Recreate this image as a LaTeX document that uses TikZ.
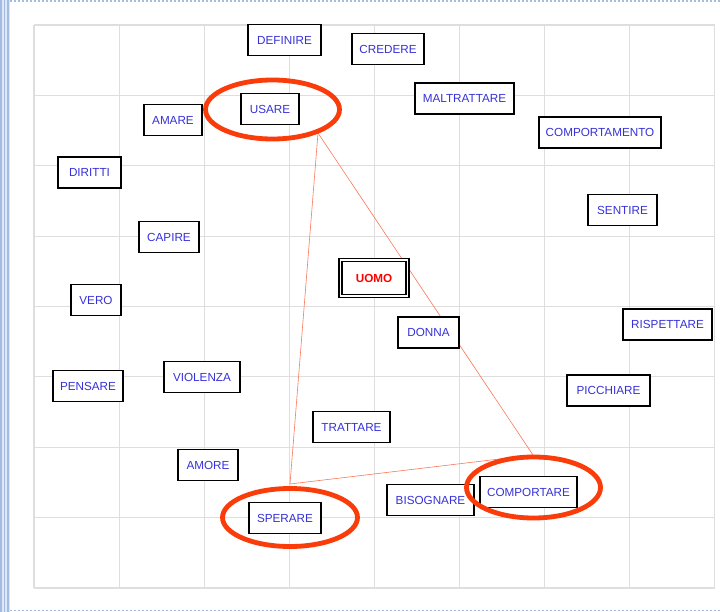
\documentclass[tikz,border=0pt]{standalone}
\usepackage{fontspec}
\setmainfont{Liberation Sans}
\usetikzlibrary{shapes.geometric}
\definecolor{txtblue}{RGB}{55,50,215}
\definecolor{gridgray}{RGB}{222,222,222}
\definecolor{ringred}{RGB}{250,60,10}
\definecolor{linered}{RGB}{250,120,90}
\definecolor{stripe}{RGB}{165,188,226}
\definecolor{stripebg}{RGB}{222,231,245}
\tikzset{
  word/.style={draw=black, line width=1.4pt, fill=white, text=txtblue,
    font=\fontsize{11.7}{13}\selectfont, minimum height=31pt, inner sep=0pt},
  ring/.style={draw=ringred, line width=4.8pt, ellipse, inner sep=0pt},
  link/.style={draw=linered, line width=0.6pt},
  gridline/.style={draw=gridgray, line width=1.2pt}
}
\begin{document}
\begin{tikzpicture}[x=1pt,y=-1pt]
\useasboundingbox (0,0) rectangle (720,612);
\fill[white] (0,0) rectangle (720,612);
% slide border decoration
\fill[stripebg] (0,0) rectangle (10,612);
\foreach \sx in {1.2,4.6,8.0} \draw[stripe, line width=1.6pt] (\sx,0) -- (\sx,612);
\draw[stripe, line width=1.4pt, dash pattern=on 2pt off 2pt] (10,1) -- (720,1);
\draw[stripe, line width=1.4pt, dash pattern=on 2pt off 2pt] (10,610.5) -- (720,610.5);
% grid
\foreach \i in {0,...,8} {
  \draw[gridline] ({34+\i*85.1},25) -- ({34+\i*85.1},588);
  \draw[gridline] (34,{25+\i*70.375}) -- (715,{25+\i*70.375});
}
% connectors
\coordinate (pU) at (318,133);
\coordinate (pS) at (290,484);
\coordinate (pC) at (533,455);
\draw[link] (pU) -- (pS);
\draw[link] (pU) -- (pC);
\draw[link] (pS) -- (pC);
% word nodes
\node[word, minimum width=73pt] (definire) at (284.5,40) {DEFINIRE};
\node[word, minimum width=72pt] (credere) at (388,49) {CREDERE};
\node[word, minimum width=58pt] (amare) at (173,120) {AMARE};
\node[word, minimum width=58pt] (usare) at (270,109) {USARE};
\node[word, minimum width=99pt] (maltrattare) at (464.5,98.5) {MALTRATTARE};
\node[word, minimum width=122pt] (comportamento) at (600,132.5) {COMPORTAMENTO};
\node[word, minimum width=63pt] (diritti) at (89.5,172.5) {DIRITTI};
\node[word, minimum width=69pt] (sentire) at (622.5,210) {SENTIRE};
\node[word, minimum width=60pt] (capire) at (169,237) {CAPIRE};
\node[word, minimum width=50pt] (vero) at (96,300) {VERO};
\node[word, minimum width=61pt] (donna) at (428.5,332.5) {DONNA};
\node[word, minimum width=89pt] (rispettare) at (667.5,324.5) {RISPETTARE};
\node[word, minimum width=70pt] (pensare) at (88,386) {PENSARE};
\node[word, minimum width=76pt] (violenza) at (202,377) {VIOLENZA};
\node[word, minimum width=83pt] (picchiare) at (608.5,390.5) {PICCHIARE};
\node[word, minimum width=77pt] (trattare) at (351.5,427) {TRATTARE};
\node[word, minimum width=60pt] (amore) at (208,465) {AMORE};
\node[word, minimum width=87pt] (bisognare) at (430.5,500) {BISOGNARE};
\node[word, minimum width=97pt] (comportare) at (528.5,492) {COMPORTARE};
\node[word, minimum width=72pt] (sperare) at (285,518) {SPERARE};
\node[draw=black, double, double distance=1.8pt, line width=1.3pt, fill=white,
  text=red, font=\fontsize{11.7}{13}\bfseries, minimum width=67pt, minimum height=36pt,
  inner sep=0pt] (uomo) at (374,278) {UOMO};
% highlight rings
\node[ring, minimum width=134pt, minimum height=59pt] (eU) at (272.5,109.5) {};
\node[ring, minimum width=134pt, minimum height=61pt] (eC) at (533.5,487.5) {};
\node[ring, minimum width=135pt, minimum height=58pt] (eS) at (290,517.5) {};
\end{tikzpicture}
\end{document}
